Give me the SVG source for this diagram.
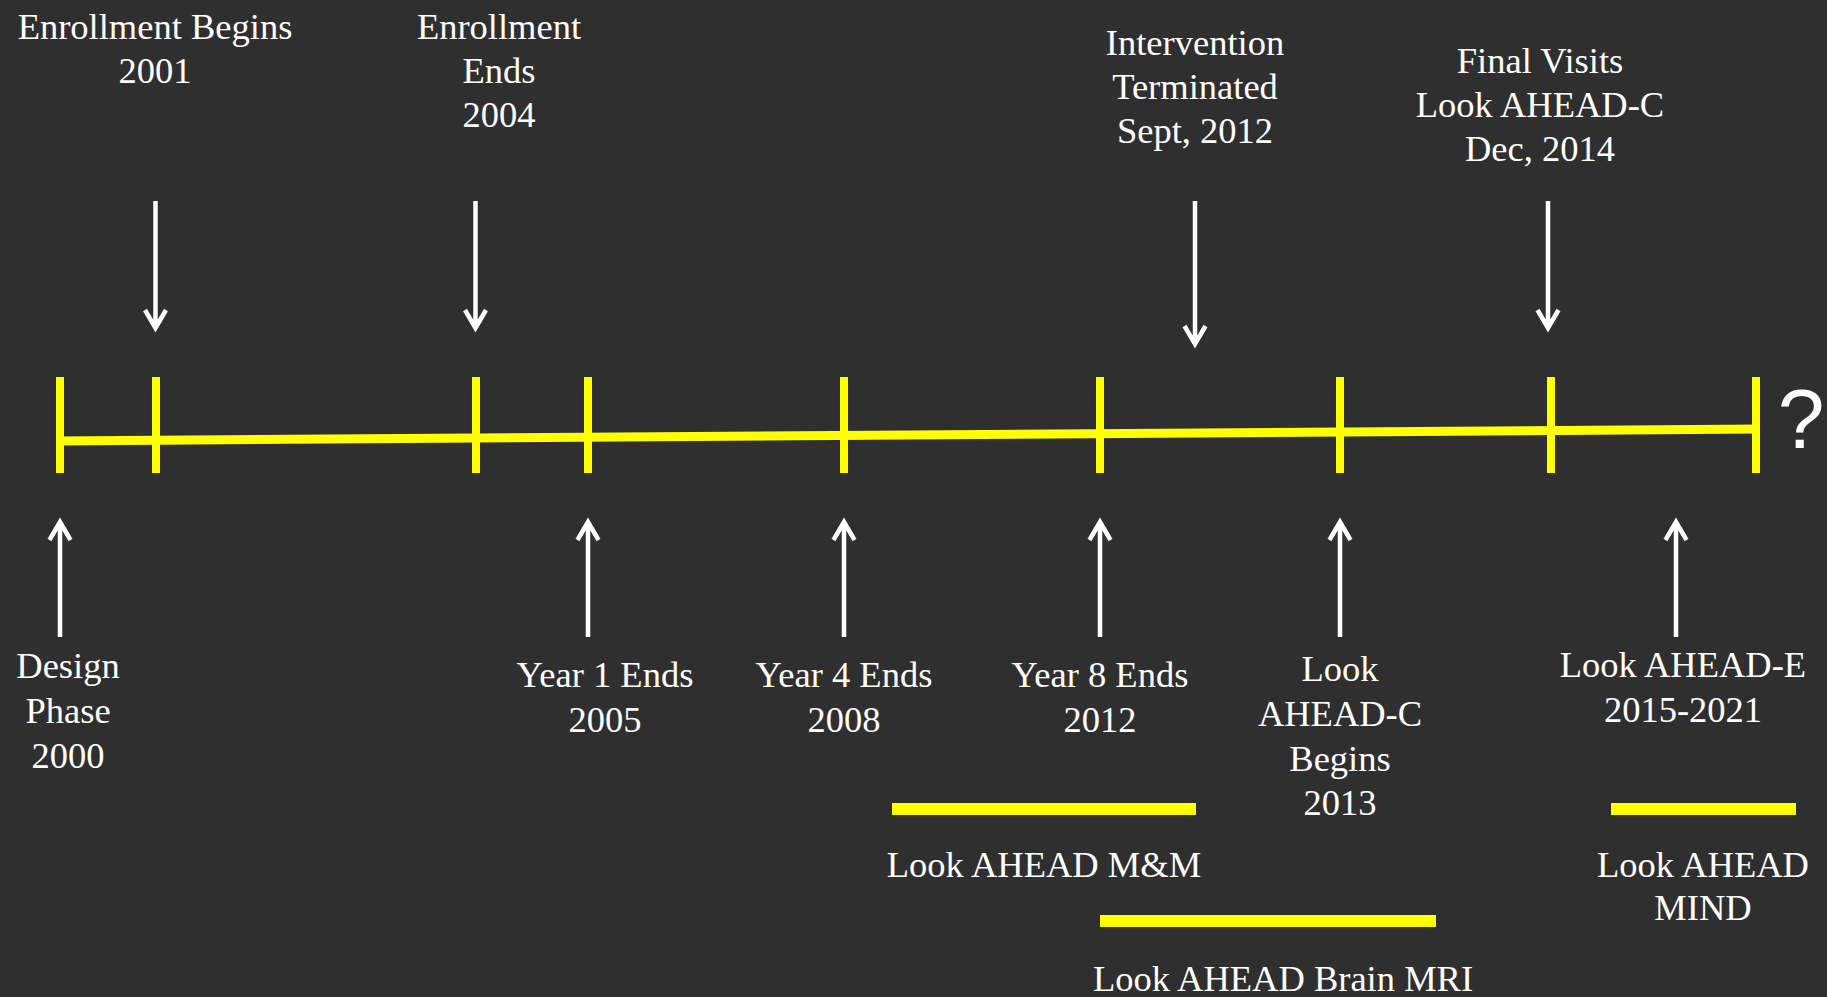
<svg xmlns="http://www.w3.org/2000/svg" width="1827" height="997" viewBox="0 0 1827 997">
  <style>
    .lbl { font-family: "Liberation Serif", "Times New Roman", serif; font-size: 36.5px; fill: #ffffff; text-anchor: middle; }
    .q { font-family: "Liberation Sans", Arial, sans-serif; font-size: 84px; fill: #ffffff; text-anchor: middle; }
    .arrow { fill: none; stroke: #ffffff; stroke-width: 4.5; stroke-linecap: butt; stroke-linejoin: miter; }
    .tick { stroke: #ffff00; stroke-width: 8; fill: none; }
    .axis { stroke: #ffff00; stroke-width: 9; fill: none; }
    .bar { fill: #ffff00; }
  </style>
  <rect x="0" y="0" width="1827" height="997" fill="#2f2f2f"/>

  <g id="timeline">
    <path class="axis" d="M56 441 L1760 429"/>
    <path class="tick" d="M60 377 V473 M156 377 V473 M476 377 V473 M588 377 V473 M844 377 V473 M1100 377 V473 M1340 377 V473 M1551 377 V473 M1756 377 V473"/>
    <text class="q" x="1801" y="448">?</text>
  </g>

  <g id="connectors">
    <path class="arrow" d="M155.5 201 V327 M145 310 L155.5 328 L166 310"/>
    <path class="arrow" d="M475.5 201 V327 M465 310 L475.5 328 L486 310"/>
    <path class="arrow" d="M1195 201 V343 M1184.5 326 L1195 344 L1205.5 326"/>
    <path class="arrow" d="M1548 201 V327 M1537.5 310 L1548 328 L1558.5 310"/>
    <path class="arrow" d="M60 637 V523 M49.5 540 L60 522 L70.5 540"/>
    <path class="arrow" d="M588 637 V523 M577.5 540 L588 522 L598.5 540"/>
    <path class="arrow" d="M844 637 V523 M833.5 540 L844 522 L854.5 540"/>
    <path class="arrow" d="M1100 637 V523 M1089.5 540 L1100 522 L1110.5 540"/>
    <path class="arrow" d="M1340 637 V523 M1329.5 540 L1340 522 L1350.5 540"/>
    <path class="arrow" d="M1676 637 V523 M1665.5 540 L1676 522 L1686.5 540"/>
  </g>

  <g id="enrollment-begins">
    <text class="lbl" x="155" y="39">Enrollment Begins</text>
    <text class="lbl" x="155" y="83">2001</text>
  </g>
  <g id="enrollment-ends">
    <text class="lbl" x="499" y="39">Enrollment</text>
    <text class="lbl" x="499" y="83">Ends</text>
    <text class="lbl" x="499" y="127">2004</text>
  </g>
  <g id="intervention-terminated">
    <text class="lbl" x="1195" y="55">Intervention</text>
    <text class="lbl" x="1195" y="99">Terminated</text>
    <text class="lbl" x="1195" y="143">Sept, 2012</text>
  </g>
  <g id="final-visits">
    <text class="lbl" x="1540" y="73">Final Visits</text>
    <text class="lbl" x="1540" y="117">Look AHEAD-C</text>
    <text class="lbl" x="1540" y="161">Dec, 2014</text>
  </g>

  <g id="design-phase">
    <text class="lbl" x="68" y="678">Design</text>
    <text class="lbl" x="68" y="723">Phase</text>
    <text class="lbl" x="68" y="768">2000</text>
  </g>
  <g id="year1">
    <text class="lbl" x="605" y="687">Year 1 Ends</text>
    <text class="lbl" x="605" y="732">2005</text>
  </g>
  <g id="year4">
    <text class="lbl" x="844" y="687">Year 4 Ends</text>
    <text class="lbl" x="844" y="732">2008</text>
  </g>
  <g id="year8">
    <text class="lbl" x="1100" y="687">Year 8 Ends</text>
    <text class="lbl" x="1100" y="732">2012</text>
  </g>
  <g id="look-ahead-c">
    <text class="lbl" x="1340" y="681">Look</text>
    <text class="lbl" x="1340" y="726">AHEAD-C</text>
    <text class="lbl" x="1340" y="771">Begins</text>
    <text class="lbl" x="1340" y="815">2013</text>
  </g>
  <g id="look-ahead-e">
    <text class="lbl" x="1683" y="677">Look AHEAD-E</text>
    <text class="lbl" x="1683" y="722">2015-2021</text>
  </g>

  <g id="mm">
    <rect class="bar" x="892" y="803" width="304" height="12"/>
    <text class="lbl" x="1044" y="877">Look AHEAD M&amp;M</text>
  </g>
  <g id="brain-mri">
    <rect class="bar" x="1100" y="915" width="336" height="12"/>
    <text class="lbl" x="1283" y="991">Look AHEAD Brain MRI</text>
  </g>
  <g id="mind">
    <rect class="bar" x="1611" y="803" width="185" height="12"/>
    <text class="lbl" x="1703" y="877">Look AHEAD</text>
    <text class="lbl" x="1703" y="920">MIND</text>
  </g>
</svg>
